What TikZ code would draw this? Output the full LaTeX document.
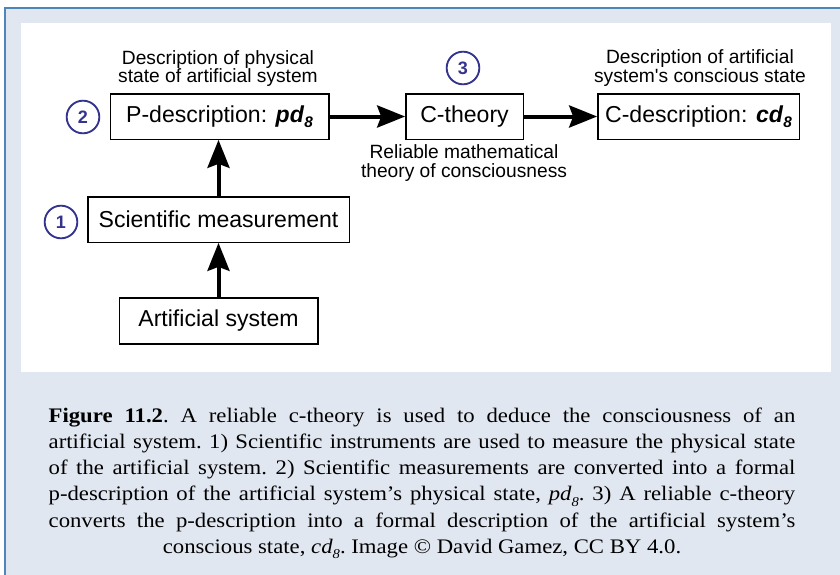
\documentclass[tikz,border=0pt]{standalone}
\usepackage{fontspec}
\setmainfont{Liberation Serif}
\newfontfamily\diagfont{Liberation Sans}
\newfontfamily\capfont[FakeStretch=1.1]{Liberation Serif}
\usetikzlibrary{arrows.meta}
\definecolor{panelbg}{HTML}{E1E7F1}
\definecolor{panelline}{HTML}{4F86B8}
\definecolor{numblue}{HTML}{34348F}
\tikzset{
  x=0.75pt, y=-0.75pt,
  stepbox/.style={draw=black, line width=1pt, fill=white, inner sep=0pt, font=\diagfont\fontsize{17.3}{19}\selectfont},
  note/.style={align=center, inner sep=0pt, font=\diagfont\fontsize{14.4}{13.6}\selectfont},
  numcirc/.style={circle, draw=numblue, line width=1.4pt, minimum size=24.5pt, inner sep=0pt, text=numblue, font=\diagfont\bfseries\fontsize{13.5}{14}\selectfont},
  bigarrow/.style={line width=3pt, -{Stealth[length=21pt, width=16.5pt, inset=3pt]}}
}
\newcommand{\subeight}{\raisebox{-0.45ex}{\fontsize{11.5}{11.5}\selectfont\bfseries\itshape 8}}
\newcommand{\capsub}{\raisebox{-0.55ex}{\fontsize{10}{10}\selectfont\itshape 8}}
\begin{document}
\begin{tikzpicture}
\useasboundingbox (0,0) rectangle (840,575);
\fill[white] (0,0) rectangle (840,575);
\fill[panelbg] (5,8) rectangle (840,575);
\draw[panelline, line width=1pt] (5,575) -- (5,8) -- (840,8);
\fill[white] (21,23) rectangle (831,372);

\node[stepbox, minimum width=164pt, minimum height=34pt] (pd) at (219.5,116.5) {P-description: \textbf{\textit{pd}}\subeight};
\node[stepbox, minimum width=88pt, minimum height=34pt] (ct) at (464.5,116.5) {C-theory};
\node[stepbox, minimum width=151pt, minimum height=34pt] (cd) at (698.5,116.5) {C-description: \textbf{\textit{cd}}\subeight};
\node[stepbox, minimum width=196pt, minimum height=34pt] (sm) at (218.5,219.5) {Scientific measurement};
\node[stepbox, minimum width=149pt, minimum height=34.5pt] (as) at (218.5,321) {Artificial system};

\node[numcirc] (n2) at (83,117) {2};
\node[numcirc] (n3) at (463,68) {3};
\node[numcirc] (n1) at (61,222) {1};

\node[note] (t1) at (218,68.5) {Description of physical\\state of artificial system};
\node[note] (t2) at (700,68) {Description of artificial\\system's conscious state};
\node[note] (t3) at (464,163) {Reliable mathematical\\theory of consciousness};

\draw[bigarrow] (pd.east) -- (ct.west);
\draw[bigarrow] (ct.east) -- (cd.west);
\draw[bigarrow] (as.north) -- (as.north |- sm.south);
\draw[bigarrow] (sm.north) -- (sm.north |- pd.south);

\node[anchor=base, inner sep=0pt] (cap) at (422,422) {\parbox[t]{560pt}{\capfont\fontsize{15.5}{19.7}\selectfont\frenchspacing
{\parfillskip=0pt
\textbf{Figure 11.2}. A reliable c-theory is used to deduce the consciousness of an\linebreak
artificial system. 1) Scientific instruments are used to measure the physical state\linebreak
of the artificial system. 2) Scientific measurements are converted into a formal\linebreak
p-description of the artificial system’s physical state, \textit{pd}\capsub. 3) A reliable c-theory\linebreak
converts the p-description into a formal description of the artificial system’s\par}
{\centering conscious state, \textit{cd}\capsub. Image © David Gamez, CC BY 4.0.\par}}};
\end{tikzpicture}
\end{document}
